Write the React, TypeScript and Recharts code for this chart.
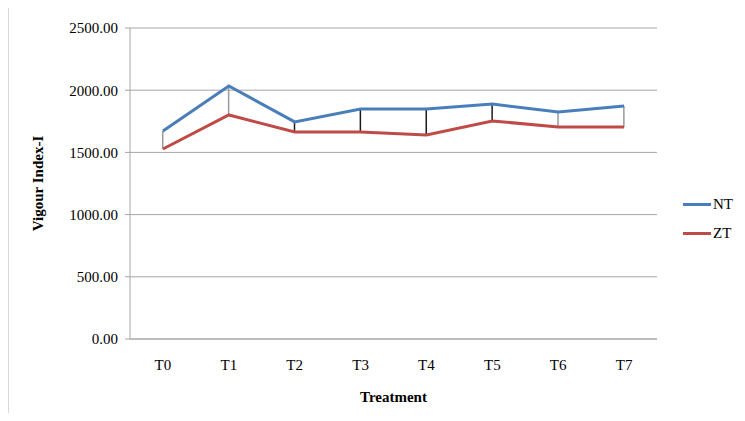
import React from "react";
import {
  ComposedChart,
  Line,
  Bar,
  Cell,
  XAxis,
  YAxis,
  CartesianGrid,
  Legend,
} from "recharts";

const treatments = ["T0", "T1", "T2", "T3", "T4", "T5", "T6", "T7"];
const ntValues = [1672, 2034, 1745, 1849, 1849, 1889, 1825, 1873];
const ztValues = [1527, 1801, 1664, 1664, 1640, 1753, 1704, 1704];
// high-low connector drawn darker at these treatments in the original
const darkLinks = ["T2", "T3", "T4", "T5"];
const yTicks = [0, 500, 1000, 1500, 2000, 2500];

const chartData = treatments.map((t, i) => ({
  name: t,
  NT: ntValues[i],
  ZT: ztValues[i],
  link: [ztValues[i], ntValues[i]],
}));

const FONT = '"Liberation Serif", "Times New Roman", serif';

function LegendBox() {
  const items = [
    { label: "NT", color: "#4a7ebb" },
    { label: "ZT", color: "#be4b48" },
  ];
  return (
    <div style={{ fontFamily: FONT, fontSize: 15, color: "#000" }}>
      {items.map((it) => (
        <div
          key={it.label}
          style={{ display: "flex", alignItems: "center", height: 29 }}
        >
          <span
            style={{
              display: "inline-block",
              width: 28,
              height: 3,
              background: it.color,
              marginRight: 2,
            }}
          />
          {it.label}
        </div>
      ))}
    </div>
  );
}

export default function App() {
  return (
    <div
      style={{
        margin: -8,
        width: 745,
        height: 421,
        background: "#fff",
        position: "relative",
        fontFamily: FONT,
        fontSize: 15,
      }}
    >
      <div
        style={{
          position: "absolute",
          left: 8,
          top: 0,
          bottom: 3,
          borderLeft: "1px solid #d9d9d9",
        }}
      />
      <ComposedChart
        width={745}
        height={421}
        data={chartData}
        // legend (60px wide) is also subtracted on the right
        margin={{ top: 28, right: 28, left: 0, bottom: 52 }}
        style={{ fontFamily: FONT }}
      >
        <CartesianGrid vertical={false} stroke="#a6a6a6" strokeWidth={1} />
        <XAxis
          dataKey="name"
          height={30}
          axisLine={{ stroke: "#a6a6a6" }}
          tickLine={false}
          tick={{ fill: "#000", fontSize: 15, fontFamily: FONT }}
          fontFamily={FONT}
          fontSize={15}
          tickMargin={14}
          label={{
            value: "Treatment",
            position: "bottom",
            offset: 22,
            style: {
              fill: "#000",
              fontSize: 15,
              fontWeight: "bold",
              fontFamily: FONT,
            },
          }}
        />
        <YAxis
          width={130}
          domain={[0, 2500]}
          ticks={yTicks}
          interval={0}
          axisLine={{ stroke: "#a6a6a6" }}
          tickLine={{ stroke: "#a6a6a6" }}
          tickSize={5}
          tickMargin={7}
          fontFamily={FONT}
          fontSize={15}
          tickFormatter={(v: number) => v.toFixed(2)}
          tick={{ fill: "#000", fontSize: 15, fontFamily: FONT }}
          label={{
            value: "Vigour Index-I",
            angle: -90,
            position: "insideLeft",
            offset: 38,
            style: {
              fill: "#000",
              fontSize: 15,
              fontWeight: "bold",
              fontFamily: FONT,
              textAnchor: "middle",
            },
          }}
        />
        <Legend
          layout="horizontal"
          align="right"
          verticalAlign="middle"
          wrapperStyle={{ left: 683, top: 190, width: 60 }}
          content={() => <LegendBox />}
        />
        <Bar dataKey="link" barSize={1.5} isAnimationActive={false} legendType="none">
          {chartData.map((d) => (
            <Cell
              key={d.name}
              fill={darkLinks.includes(d.name) ? "#1a1a1a" : "#9a9a9a"}
            />
          ))}
        </Bar>
        <Line
          type="linear"
          dataKey="NT"
          stroke="#4a7ebb"
          strokeWidth={3}
          dot={false}
          isAnimationActive={false}
        />
        <Line
          type="linear"
          dataKey="ZT"
          stroke="#be4b48"
          strokeWidth={3}
          dot={false}
          isAnimationActive={false}
        />
      </ComposedChart>
    </div>
  );
}
